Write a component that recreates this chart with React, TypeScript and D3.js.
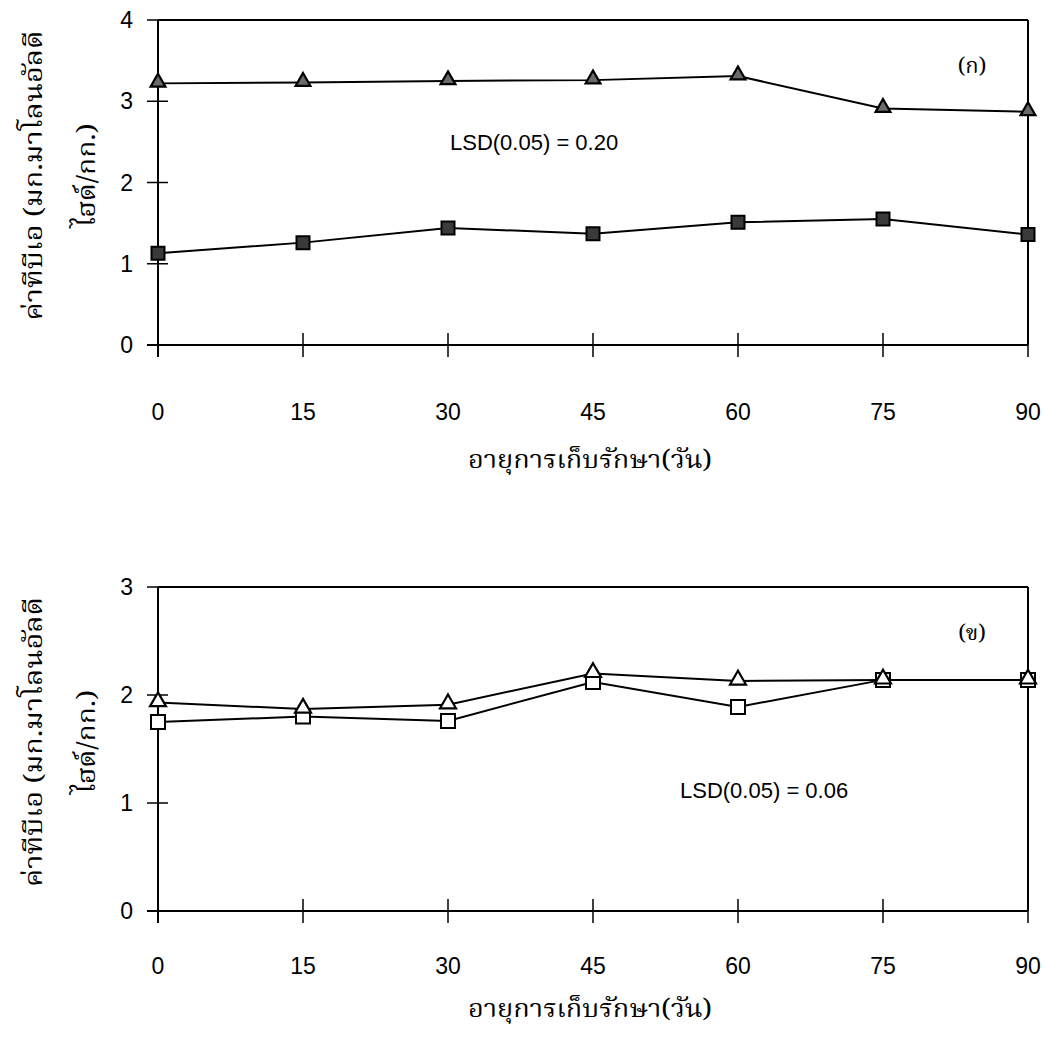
import React from "react";
import * as d3 from "d3";

const days = [0, 15, 30, 45, 60, 75, 90];
const topTriangle = [3.22, 3.23, 3.25, 3.26, 3.31, 2.91, 2.87];
const topSquare = [1.13, 1.26, 1.44, 1.37, 1.51, 1.55, 1.36];
const bottomTriangle = [1.93, 1.87, 1.91, 2.2, 2.13, 2.14, 2.14];
const bottomSquare = [1.75, 1.8, 1.76, 2.12, 1.89, 2.14, 2.14];
const topYTicks = [0, 1, 2, 3, 4];
const bottomYTicks = [0, 1, 2, 3];

const yLabel1 = "ค่าทีบีเอ (มก.มาโลนอัลดี";
const yLabel2 = "ไฮด์/กก.)";
const xTitle = "อายุการเก็บรักษา(วัน)";

const NUM_FONT = "'Liberation Sans Narrow', 'Arial Narrow', 'Liberation Sans', Arial, sans-serif";
const THAI_FONT = "'Noto Serif Thai', 'Noto Sans Thai Looped', 'Noto Sans Thai', 'Noto Sans', 'DejaVu Sans', sans-serif";

type PanelProps = {
  yTop: number;
  yBottom: number;
  yMax: number;
  yTicks: number[];
  tri: number[];
  sq: number[];
  filled: boolean;
  tag: string;
  lsd: string;
  lsdX: number;
  lsdY: number;
  tickLabelY: number;
  titleY: number;
};

function Panel(p: PanelProps) {
  const x = d3.scaleLinear().domain([0, 90]).range([158, 1028]);
  const y = d3.scaleLinear().domain([0, p.yMax]).range([p.yBottom, p.yTop]);
  const line = d3
    .line<number>()
    .x((_, i) => x(days[i]))
    .y((v) => y(v));
  const sqPath = d3.symbol().type(d3.symbolSquare).size(p.filled ? 169 : 196)();
  const triPath = d3.symbol().type(d3.symbolTriangle).size(p.filled ? 95 : 110)();
  const cy = (p.yTop + p.yBottom) / 2 - 7;
  return (
    <g>
      {/* frame */}
      <line x1={x(0)} y1={y(p.yMax)} x2={x(90)} y2={y(p.yMax)} stroke="#000" strokeWidth={2} />
      <line x1={x(90)} y1={y(p.yMax)} x2={x(90)} y2={y(0)} stroke="#000" strokeWidth={2} />
      <line x1={x(0)} y1={y(p.yMax)} x2={x(0)} y2={y(0) + 12} stroke="#000" strokeWidth={2} />
      <line x1={x(0) - 11} y1={y(0)} x2={x(90)} y2={y(0)} stroke="#000" strokeWidth={2} />
      {/* y ticks */}
      {p.yTicks.map((t) => (
        <g key={"yt" + t}>
          <line x1={x(0) - 11} x2={t === p.yMax ? x(0) : x(0) + 10} y1={y(t)} y2={y(t)} stroke="#000" strokeWidth={1.5} />
          <text x={133} y={y(t)} textAnchor="end" dominantBaseline="central" fontFamily={NUM_FONT} fontSize={23}>
            {t}
          </text>
        </g>
      ))}
      {/* x ticks */}
      {days.map((d) => (
        <g key={"xt" + d}>
          <line x1={x(d)} x2={x(d)} y1={y(0) - 12} y2={y(0) + 12} stroke="#000" strokeWidth={1.5} />
          <text x={x(d)} y={p.tickLabelY} textAnchor="middle" dominantBaseline="central" fontFamily={NUM_FONT} fontSize={23}>
            {d}
          </text>
        </g>
      ))}
      {/* series lines */}
      <path d={line(p.sq) || ""} fill="none" stroke="#000" strokeWidth={2} />
      <path d={line(p.tri) || ""} fill="none" stroke="#000" strokeWidth={2} />
      {/* markers */}
      {p.sq.map((v, i) => (
        <path
          key={"s" + i}
          d={sqPath || ""}
          transform={`translate(${x(days[i])},${y(v)})`}
          fill={p.filled ? "#3a3a3a" : "#fff"}
          stroke="#000"
          strokeWidth={2}
        />
      ))}
      {p.tri.map((v, i) => (
        <path
          key={"t" + i}
          d={triPath || ""}
          transform={`translate(${x(days[i])},${y(v) - 1})`}
          fill={p.filled ? "#6a6a6a" : "#fff"}
          stroke="#000"
          strokeWidth={2.2}
        />
      ))}
      {/* annotations */}
      <text x={p.lsdX} y={p.lsdY} dominantBaseline="central" fontFamily={NUM_FONT} fontSize={22}>
        {p.lsd}
      </text>
      <text x={972} y={p.yTop + 47} textAnchor="middle" dominantBaseline="central" fontFamily={THAI_FONT} fontSize={22}>
        {p.tag}
      </text>
      {/* y label */}
      <text
        transform={`translate(35,${cy}) rotate(-90)`}
        textAnchor="middle"
        dominantBaseline="central"
        fontFamily={THAI_FONT}
        fontSize={25}
        textLength={290}
        lengthAdjust="spacingAndGlyphs"
      >
        {yLabel1}
      </text>
      <text
        transform={`translate(88,${cy}) rotate(-90)`}
        textAnchor="middle"
        dominantBaseline="central"
        fontFamily={THAI_FONT}
        fontSize={25}
        textLength={104}
        lengthAdjust="spacingAndGlyphs"
      >
        {yLabel2}
      </text>
      {/* x title */}
      <text
        x={590}
        y={p.titleY}
        textAnchor="middle"
        dominantBaseline="central"
        fontFamily={THAI_FONT}
        fontSize={25}
        textLength={244}
        lengthAdjust="spacingAndGlyphs"
      >
        {xTitle}
      </text>
    </g>
  );
}

export default function App() {
  return (
    <svg
      width={1044}
      height={1048}
      viewBox="0 0 1044 1048"
      style={{ position: "absolute", left: 0, top: 0, display: "block", background: "#fff" }}
    >
      <rect x={0} y={0} width={1044} height={1048} fill="#fff" />
      <Panel
        yTop={20}
        yBottom={345}
        yMax={4}
        yTicks={topYTicks}
        tri={topTriangle}
        sq={topSquare}
        filled={true}
        tag="(ก)"
        lsd="LSD(0.05) = 0.20"
        lsdX={450}
        lsdY={142}
        tickLabelY={412}
        titleY={461}
      />
      <Panel
        yTop={587}
        yBottom={911}
        yMax={3}
        yTicks={bottomYTicks}
        tri={bottomTriangle}
        sq={bottomSquare}
        filled={false}
        tag="(ข)"
        lsd="LSD(0.05) = 0.06"
        lsdX={680}
        lsdY={790}
        tickLabelY={966}
        titleY={1010}
      />
    </svg>
  );
}
